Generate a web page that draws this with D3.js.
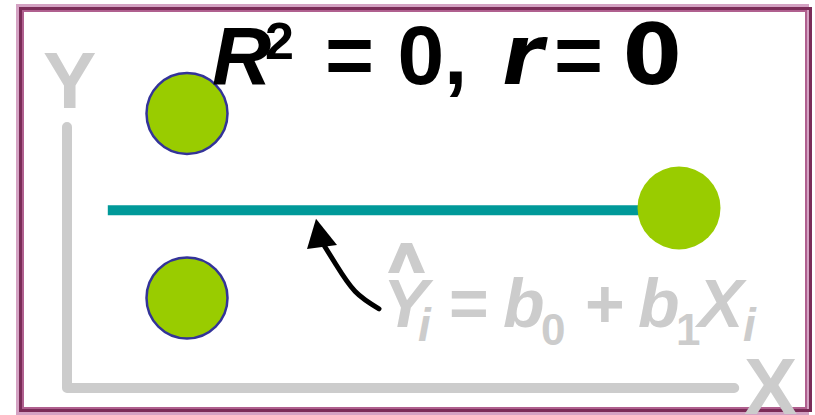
<!DOCTYPE html>
<html>
<head>
<meta charset="utf-8">
<script src="https://cdn.jsdelivr.net/npm/d3@7"></script>
<style>
  html, body { margin: 0; padding: 0; background: #ffffff; }
  svg { display: block; }
</style>
</head>
<body>
<svg id="chart" width="815" height="415"></svg>
<script>
// ---- data ----
const pointX = [2, 2, 10.2];
const pointY = [6.1, 2.0, 4.0];
const pointOutlined = [true, true, false];
const fitB0 = 3.95;          // regression line: Y-hat = b0 + b1 X, with b1 = 0
const fitB1 = 0;
const fitXRange = [0.68, 10.2];
const axisXRange = [0, 11.12];
const axisYRange = [0, 5.8];
const titleParts = ["R", "2", "= 0,", "r", "=", "0"];
const axisLabels = ["X", "Y"];
// arrow annotation, in data units
const arrowCurve = [[5.2, 1.76], [4.8, 2.15], [4.48, 2.75], [4.27, 3.2]];
const arrowHead = [[4.15, 3.76], [4.0, 3.09], [4.5, 3.18]];

// ---- scales ----
const svg = d3.select("#chart");
const x = d3.scaleLinear().domain([0, 11]).range([67, 727]);
const y = d3.scaleLinear().domain([0, 6]).range([388, 118]);

// ---- frame ----
svg.append("rect").attr("x", 17.5).attr("y", 5.5).attr("width", 790).attr("height", 408)
  .attr("fill", "none").attr("stroke", "#d4a2c3").attr("stroke-width", 3);
svg.append("rect").attr("x", 20.5).attr("y", 8.5).attr("width", 790).attr("height", 402)
  .attr("fill", "none").attr("stroke", "#7b2c58").attr("stroke-width", 3);
svg.append("rect").attr("x", 23).attr("y", 11).attr("width", 783).attr("height", 397)
  .attr("fill", "none").attr("stroke", "#b0608f").attr("stroke-width", 2);

// ---- axes ----
const axisLine = d3.line().x(d => x(d[0])).y(d => y(d[1]));
svg.append("path")
  .attr("d", axisLine([[0, axisYRange[1]], [0, 0], [axisXRange[1], 0]]))
  .attr("fill", "none").attr("stroke", "#cccccc").attr("stroke-width", 10)
  .attr("stroke-linecap", "round").attr("stroke-linejoin", "round");

svg.append("text").text(axisLabels[1])
  .attr("x", 43).attr("y", 108)
  .attr("font-family", "Liberation Sans, Arial, sans-serif").attr("font-weight", "bold")
  .attr("font-size", 80).attr("fill", "#cccccc");
svg.append("text").text(axisLabels[0])
  .attr("x", 744).attr("y", 414)
  .attr("font-family", "Liberation Sans, Arial, sans-serif").attr("font-weight", "bold")
  .attr("font-size", 80).attr("fill", "#cccccc");

// ---- regression line ----
svg.append("line")
  .attr("x1", x(fitXRange[0])).attr("x2", x(fitXRange[1]))
  .attr("y1", y(fitB0 + fitB1 * fitXRange[0])).attr("y2", y(fitB0 + fitB1 * fitXRange[1]))
  .attr("stroke", "#009999").attr("stroke-width", 10);

// ---- points ----
svg.selectAll("circle.pt").data(pointX.map((d, i) => ({x: d, y: pointY[i], o: pointOutlined[i]})))
  .enter().append("circle").attr("class", "pt")
  .attr("cx", d => x(d.x)).attr("cy", d => y(d.y))
  .attr("r", d => d.o ? 40.5 : 41.5)
  .attr("fill", "#99cc00")
  .attr("stroke", d => d.o ? "#333399" : "none")
  .attr("stroke-width", 2.5);

// ---- arrow ----
svg.append("path")
  .attr("d", d3.line().x(d => x(d[0])).y(d => y(d[1])).curve(d3.curveNatural)(arrowCurve))
  .attr("fill", "none").attr("stroke", "#000").attr("stroke-width", 5)
  .attr("stroke-linecap", "round");
svg.append("path")
  .attr("d", d3.line().x(d => x(d[0])).y(d => y(d[1])).curve(d3.curveLinearClosed)(arrowHead))
  .attr("fill", "#000");

// ---- title ----
const title = svg.append("text").attr("y", 84).attr("fill", "#000")
  .attr("font-family", "Liberation Sans, Arial, sans-serif").attr("font-weight", "bold");
title.append("tspan").text(titleParts[0]).attr("x", 212).attr("font-size", 82).attr("font-style", "italic");
title.append("tspan").text(titleParts[1]).attr("x", 265).attr("y", 59).attr("font-size", 52);
title.append("tspan").text(titleParts[2]).attr("x", 325).attr("y", 84).attr("font-size", 84);
title.append("tspan").text(titleParts[3]).attr("x", 502).attr("font-size", 84)
  .attr("font-style", "italic").attr("font-family", "DejaVu Sans, Verdana, sans-serif");
title.append("tspan").text(titleParts[4]).attr("x", 554).attr("font-size", 84);
title.append("tspan").text(titleParts[5]).attr("x", 623).attr("font-size", 84)
  .attr("font-family", "DejaVu Sans, Verdana, sans-serif");

// ---- fitted equation ----
const eq = svg.append("text").attr("y", 327).attr("fill", "#cccccc")
  .attr("font-family", "Liberation Sans, Arial, sans-serif").attr("font-weight", "bold");
const eqParts = [
  {t: "Y", x: 383, s: 68, it: true, base: 327},
  {t: "i", x: 418, s: 46, it: true, base: 341},
  {t: "=", x: 449, s: 68, it: false, base: 327},
  {t: "b", x: 503, s: 68, it: true, base: 327},
  {t: "0", x: 541, s: 44, it: false, base: 345},
  {t: "+", x: 585, s: 68, it: false, base: 327},
  {t: "b", x: 638, s: 68, it: true, base: 327},
  {t: "1", x: 676, s: 44, it: false, base: 345},
  {t: "X", x: 698, s: 68, it: true, base: 327},
  {t: "i", x: 743, s: 46, it: true, base: 341}
];
eqParts.forEach(p => {
  eq.append("tspan").text(p.t).attr("x", p.x).attr("y", p.base)
    .attr("font-size", p.s).attr("font-style", p.it ? "italic" : "normal");
});
// hat over Y (bold chevron, drawn relative to the Y glyph)
const hatCx = 406.5, hatTop = 243, hatH = 30, hatW = 37, hatT = 11;
const hatPts = [
  [hatCx - hatW / 2, hatTop + hatH], [hatCx - hatT / 2, hatTop], [hatCx + hatT / 2, hatTop],
  [hatCx + hatW / 2, hatTop + hatH], [hatCx + hatW / 2 - hatT, hatTop + hatH],
  [hatCx, hatTop + 11], [hatCx - hatW / 2 + hatT, hatTop + hatH]
];
svg.append("path").attr("d", d3.line().curve(d3.curveLinearClosed)(hatPts)).attr("fill", "#cccccc");
</script>
</body>
</html>
